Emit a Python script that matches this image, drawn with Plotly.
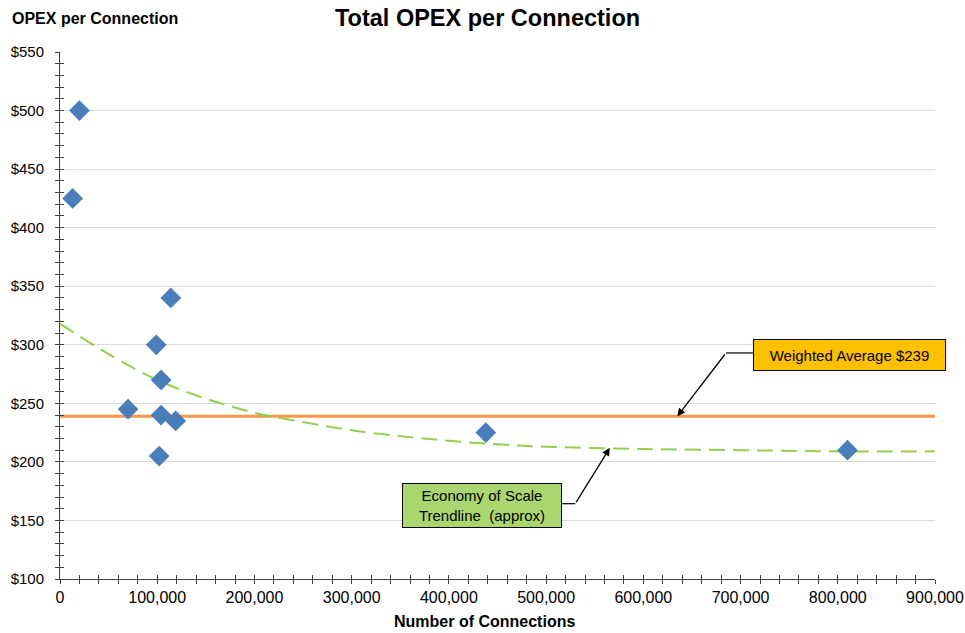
import plotly.graph_objects as go

# Data
connections = [13000, 20000, 70000, 99000, 104000, 104000, 102000, 114000, 119000, 438000, 810000]
opex = [425, 500, 245, 300, 270, 240, 205, 340, 235, 225, 210]

weighted_avg_x = [0, 900000]
weighted_avg_y = [239, 239]

trend_x = [0, 50000, 100000, 150000, 200000, 250000, 300000, 350000, 400000, 450000,
           500000, 600000, 700000, 800000, 900000]
trend_y = [318, 292, 270, 254, 242, 234, 227, 222, 218, 215, 213, 211, 210, 209, 209]

FONT = "Arial, Liberation Sans, sans-serif"

fig = go.Figure()
fig.add_trace(go.Scatter(x=weighted_avg_x, y=weighted_avg_y, mode="lines",
                         line=dict(color="#F79646", width=3), hoverinfo="skip"))
fig.add_trace(go.Scatter(x=trend_x, y=trend_y, mode="lines", line_shape="spline",
                         line=dict(color="#92D050", width=2, dash="16px,8px"), hoverinfo="skip"))
fig.add_trace(go.Scatter(x=connections, y=opex, mode="markers",
                         marker=dict(symbol="diamond", size=16, color="#4A7EBB",
                                     line=dict(width=0))))
# invisible trace to activate overlay axes (for crossing ticks)
fig.add_trace(go.Scatter(x=[0], y=[100], xaxis="x2", yaxis="y2", mode="markers",
                         marker=dict(opacity=0), hoverinfo="skip"))

axis_common = dict(linecolor="#404040", linewidth=1, zeroline=False, tickcolor="#404040",
                   automargin=False)

fig.update_layout(
    width=965, height=633,
    margin=dict(l=60, r=30, t=52, b=54),
    paper_bgcolor="white", plot_bgcolor="white",
    showlegend=False,
    font=dict(family=FONT, color="#000000"),
    xaxis=dict(range=[0, 900000], dtick=100000, tickformat=",", ticks="outside", ticklen=4,
               showgrid=False, ticklabelstandoff=0,
               tickfont=dict(family=FONT, size=16, color="#000000"),
               minor=dict(dtick=20000, ticks="outside", ticklen=4, tickcolor="#404040"),
               **axis_common),
    yaxis=dict(range=[100, 550], dtick=50, tickprefix="$", ticks="outside", ticklen=4,
               showgrid=True, gridcolor="#D9D9D9", gridwidth=1, ticklabelstandoff=8,
               tickfont=dict(family=FONT, size=15, color="#000000"),
               minor=dict(dtick=10, ticks="outside", ticklen=4, tickcolor="#404040", showgrid=False),
               **axis_common),
    xaxis2=dict(range=[0, 900000], overlaying="x", anchor="y2", dtick=100000, ticks="inside",
                ticklen=4, showticklabels=False, showgrid=False, zeroline=False,
                showline=False, tickcolor="#404040", automargin=False,
                minor=dict(dtick=20000, ticks="inside", ticklen=4, tickcolor="#404040")),
    yaxis2=dict(range=[100, 550], overlaying="y", anchor="x2", dtick=50, ticks="inside",
                ticklen=4, showticklabels=False, showgrid=False, zeroline=False,
                showline=False, tickcolor="#404040", automargin=False,
                minor=dict(dtick=10, ticks="inside", ticklen=4, tickcolor="#404040")),
)

# Chart title
fig.add_annotation(text="<b>Total OPEX per Connection</b>", xref="paper", yref="paper",
                   x=0.488, y=1.0645, xanchor="center", yanchor="middle", showarrow=False,
                   font=dict(size=23.5, family=FONT))
# Y-axis title at top-left
fig.add_annotation(text="<b>OPEX per Connection</b>", xref="paper", yref="paper",
                   x=-0.0571, y=1.0645, xanchor="left", yanchor="middle", showarrow=False,
                   font=dict(size=16, family=FONT))
# X-axis title
fig.add_annotation(text="<b>Number of Connections</b>", xref="paper", yref="paper",
                   x=0.4846, y=-0.0797, xanchor="center", yanchor="middle", showarrow=False,
                   font=dict(size=16, family=FONT))

# Weighted average callout
fig.add_annotation(text="Weighted Average $239", x=812000, y=291, xref="x", yref="y",
                   showarrow=False, bgcolor="#FFC000", bordercolor="#000000", borderwidth=1,
                   borderpad=3, width=185, height=24, font=dict(size=15, family=FONT))
fig.add_shape(type="line", x0=685000, x1=713000, y0=293, y1=293, xref="x", yref="y",
              line=dict(color="#000000", width=1.2))
fig.add_annotation(x=635000, y=239, ax=685000, ay=293, xref="x", yref="y", axref="x", ayref="y",
                   text="", showarrow=True, arrowhead=2, arrowsize=1.2, arrowwidth=1.3,
                   arrowcolor="#000000")

# Trendline callout
fig.add_annotation(text="Economy of Scale<br>Trendline  (approx)", x=434000, y=162.5,
                   xref="x", yref="y", showarrow=False, bgcolor="#A9D66F",
                   bordercolor="#000000", borderwidth=1, borderpad=3, width=152, height=37,
                   font=dict(size=15, family=FONT))
fig.add_shape(type="line", x0=516500, x1=530000, y0=164.3, y1=164.3, xref="x", yref="y",
              line=dict(color="#000000", width=1.2))
fig.add_annotation(x=565500, y=212, ax=530000, ay=164.3, xref="x", yref="y", axref="x", ayref="y",
                   text="", showarrow=True, arrowhead=2, arrowsize=1.2, arrowwidth=1.3,
                   arrowcolor="#000000")

fig.write_html("out.html", config={"displayModeBar": False},
               post_script="document.body.style.margin='0';document.body.style.overflow='hidden';")
